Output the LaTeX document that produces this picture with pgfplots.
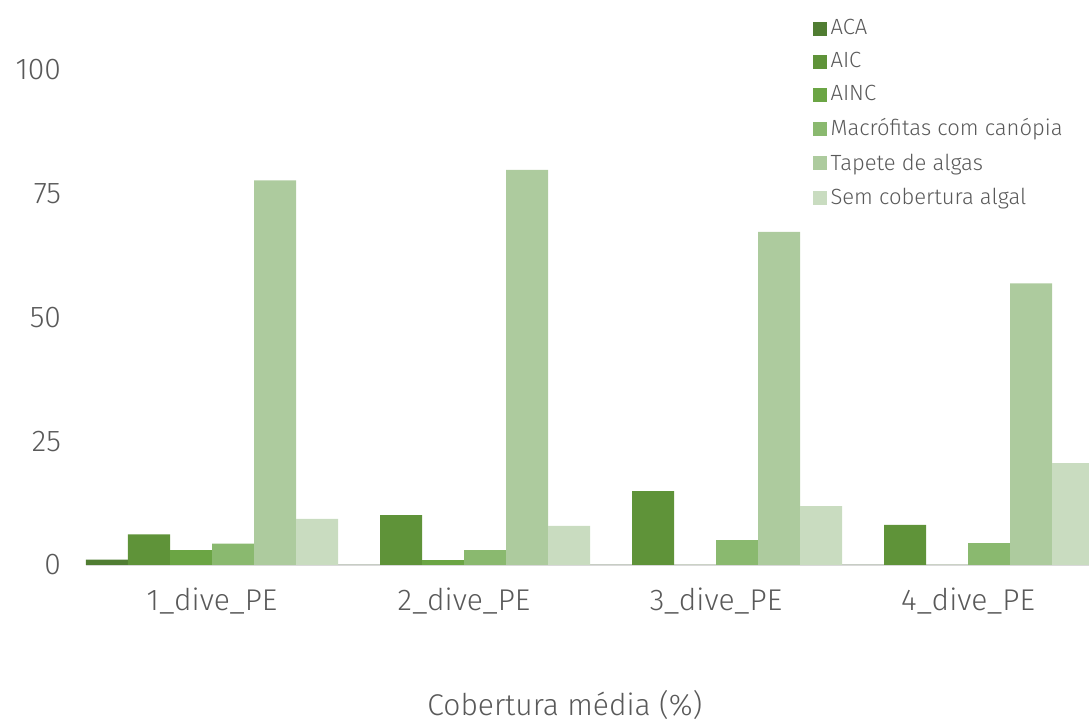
\documentclass[border=0pt]{standalone}
\usepackage{fontspec}
\setmainfont{Fira Sans Light}
\usepackage{pgfplots}
\pgfplotsset{compat=1.18}

\definecolor{txt}{HTML}{595959}
\definecolor{cACA}{HTML}{507D32}
\definecolor{cAIC}{HTML}{5F9339}
\definecolor{cAINC}{HTML}{6BA544}
\definecolor{cMac}{HTML}{8AB96F}
\definecolor{cTap}{HTML}{ADCB9E}
\definecolor{cSem}{HTML}{C9DCC0}

\begin{document}
\begin{tikzpicture}
% page frame: 1089x722 px at 0.5pt per px, axis origin at (86,565) px
\useasboundingbox (-43pt,-78.5pt) rectangle (501.5pt,282.5pt);
\begin{axis}[
  scale only axis,
  width=501.5pt, height=247.5pt,
  ybar=0pt, bar width=0.16667,
  xmin=0.5, xmax=4.48,
  ymin=0, ymax=100,
  xtick={1,2,3,4},
  xticklabels={1\_dive\_PE,2\_dive\_PE,3\_dive\_PE,4\_dive\_PE},
  ytick={0,25,50,75,100},
  axis x line*=bottom, axis y line*=left,
  x axis line style={draw=black!15, line width=1pt},
  y axis line style={draw=none},
  major tick length=0pt,
  tick label style={font=\fontsize{15}{18}\selectfont, text=txt},
  /pgf/number format/assume math mode=true,
  yticklabel style={xshift=-9pt},
  xticklabel style={yshift=-8pt},
  xlabel={Cobertura média (\%)},
  xlabel style={font=\fontsize{15}{18}\selectfont, text=txt, at={(rel axis cs:0.4775,0)}, anchor=center, yshift=-70pt},
  legend cell align=left,
  legend style={draw=none, fill=none, at={(rel axis cs:0.724,1.111)}, anchor=north west,
    font=\fontsize{11}{13}\selectfont, text=txt, row sep=3.4pt, inner sep=0pt},
  legend image code/.code={\fill[#1] (0pt,-3.5pt) rectangle (7pt,3.5pt);},
  every axis plot/.append style={draw=none},
]
\addplot[fill=cACA] coordinates {(1,1.1) (2,0) (3,0) (4,0)};
\addplot[fill=cAIC] coordinates {(1,6.2) (2,10.1) (3,14.9) (4,8.1)};
\addplot[fill=cAINC] coordinates {(1,3.0) (2,1.0) (3,0) (4,0)};
\addplot[fill=cMac] coordinates {(1,4.3) (2,3.0) (3,5.0) (4,4.4)};
\addplot[fill=cTap] coordinates {(1,77.7) (2,79.8) (3,67.3) (4,56.9)};
\addplot[fill=cSem] coordinates {(1,9.3) (2,7.9) (3,11.9) (4,20.6)};
\legend{ACA,AIC,AINC,Macrófitas com canópia,Tapete de algas,Sem cobertura algal}
\end{axis}
\end{tikzpicture}
\end{document}
